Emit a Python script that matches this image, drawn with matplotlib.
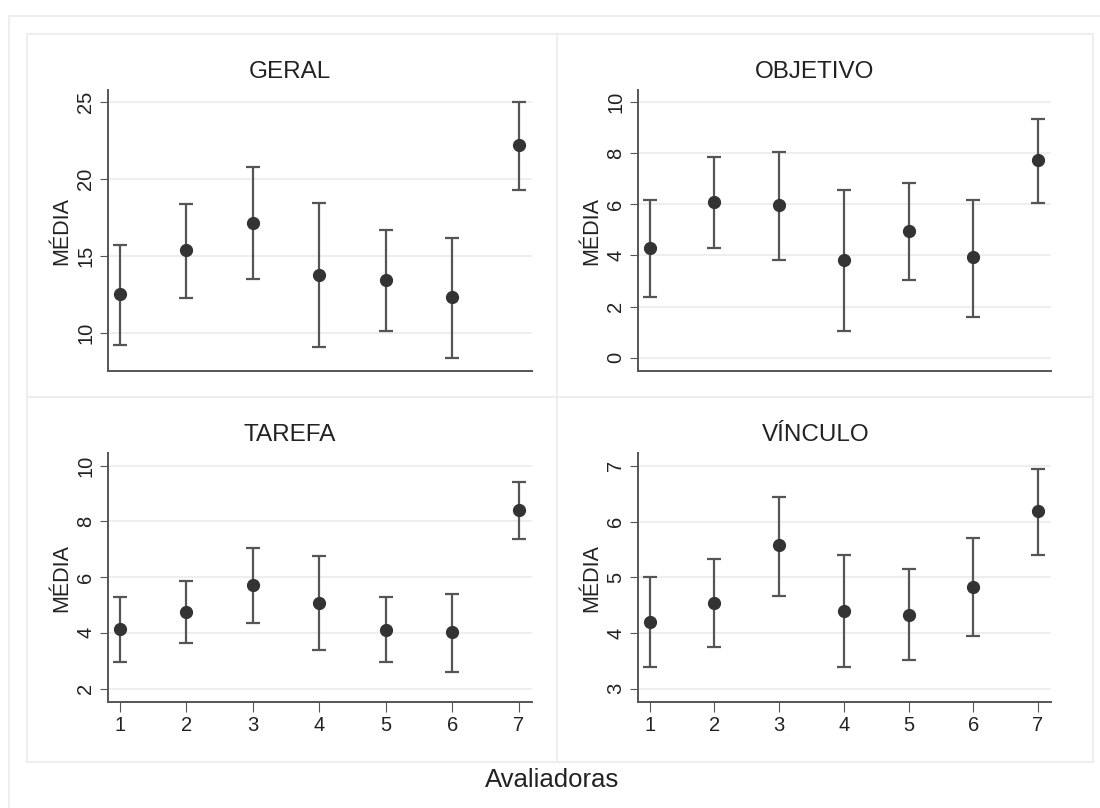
import numpy as np
from matplotlib import pyplot as plt
from matplotlib.lines import Line2D

plt.rcParams.update({
    "font.family": "Liberation Sans",
    "axes.linewidth": 1.4,
})

W, H = 1100, 808

avaliadoras = [1, 2, 3, 4, 5, 6, 7]

geral_mean = [12.58, 15.39, 17.19, 13.81, 13.44, 12.34, 22.25]
geral_low = [9.24, 12.29, 13.55, 9.11, 10.13, 8.42, 19.31]
geral_high = [15.76, 18.42, 20.82, 18.46, 16.73, 16.21, 25.02]

objetivo_mean = [4.31, 6.10, 5.97, 3.83, 4.97, 3.93, 7.73]
objetivo_low = [2.38, 4.29, 3.83, 1.06, 3.03, 1.61, 6.04]
objetivo_high = [6.17, 7.85, 8.05, 6.57, 6.85, 6.17, 9.35]

tarefa_mean = [4.13, 4.75, 5.71, 5.08, 4.12, 4.04, 8.40]
tarefa_low = [2.96, 3.62, 4.35, 3.40, 2.95, 2.60, 7.35]
tarefa_high = [5.30, 5.85, 7.04, 6.76, 5.30, 5.39, 9.42]

vinculo_mean = [4.20, 4.54, 5.57, 4.40, 4.33, 4.83, 6.18]
vinculo_low = [3.39, 3.74, 4.67, 3.38, 3.51, 3.94, 5.39]
vinculo_high = [5.00, 5.33, 6.44, 5.39, 5.14, 5.70, 6.95]

MARKER = "#333333"
LINE = "#555555"
GRID = "#ebebeb"
FRAME = "#eeeeee"


def fx(px):
    return px / W


def fy(py):
    return 1 - py / H


def panel(fig, box, title, title_x, title_y, mean, low, high, ylim, yticks, bottom):
    left, top, right, bot = box
    ax = fig.add_axes([fx(left), fy(bot), fx(right - left), (bot - top) / H])
    mean = np.array(mean)
    yerr = [mean - np.array(low), np.array(high) - mean]
    ax.errorbar(avaliadoras, mean, yerr=yerr, fmt="o", color=MARKER,
                ecolor=LINE, elinewidth=1.6, capsize=5, capthick=1.6,
                markersize=8.5, zorder=3)
    ax.set_xlim(0.82, 7.2)
    ax.set_ylim(*ylim)
    ax.set_yticks(yticks)
    ax.grid(axis="y", color=GRID, linewidth=1.2)
    ax.set_axisbelow(True)
    for s in ["top", "right"]:
        ax.spines[s].set_visible(False)
    for s in ["left", "bottom"]:
        ax.spines[s].set_color(LINE)
    ax.tick_params(axis="y", labelrotation=90, labelsize=14.5, length=6,
                   color=LINE, pad=3, labelcolor="#222222")
    for lab in ax.get_yticklabels():
        lab.set_va("center")
    if bottom:
        ax.set_xticks(avaliadoras)
        ax.tick_params(axis="x", labelsize=14.5, length=7, color=LINE, pad=3,
                       labelcolor="#222222")
    else:
        ax.set_xticks([])
    ax.set_ylabel("MÉDIA", fontsize=15.5, color="#222222")
    ax.yaxis.set_label_coords(-36 / (right - left), 0.5)
    fig.text(fx(title_x), fy(title_y), title, fontsize=17.5, ha="center",
             va="center", color="#222222")
    return ax


def main():
    fig = plt.figure(figsize=(W / 100, H / 100), dpi=100)

    # faint frame around the whole graph and the four panels
    frame = [
        ((9, 9), (16, 808)), ((9, 1100), (16, 16)),
        ((27, 27), (34, 762)), ((27, 1093), (34, 34)),
        ((1093, 1093), (34, 762)), ((27, 1093), (762, 762)),
        ((557, 557), (34, 762)), ((27, 1093), (397, 397)),
    ]
    for xs, ys in frame:
        fig.add_artist(Line2D([fx(x) for x in xs], [fy(y) for y in ys],
                              color=FRAME, linewidth=1.5))

    panel(fig, (108, 90, 532, 371), "GERAL", 290, 72,
          geral_mean, geral_low, geral_high, (7.55, 25.8), [10, 15, 20, 25], False)
    panel(fig, (638, 90, 1051, 371), "OBJETIVO", 815, 72,
          objetivo_mean, objetivo_low, objetivo_high, (-0.52, 10.47),
          [0, 2, 4, 6, 8, 10], False)
    panel(fig, (108, 453, 532, 702), "TAREFA", 290, 435,
          tarefa_mean, tarefa_low, tarefa_high, (1.52, 10.45), [2, 4, 6, 8, 10], True)
    panel(fig, (638, 453, 1051, 702), "VÍNCULO", 816, 435,
          vinculo_mean, vinculo_low, vinculo_high, (2.76, 7.23), [3, 4, 5, 6, 7], True)

    fig.text(fx(552), fy(780), "Avaliadoras", fontsize=18.5, ha="center",
             va="center", color="#222222")

    fig.savefig("out.png", dpi=100, facecolor="white")


main()
